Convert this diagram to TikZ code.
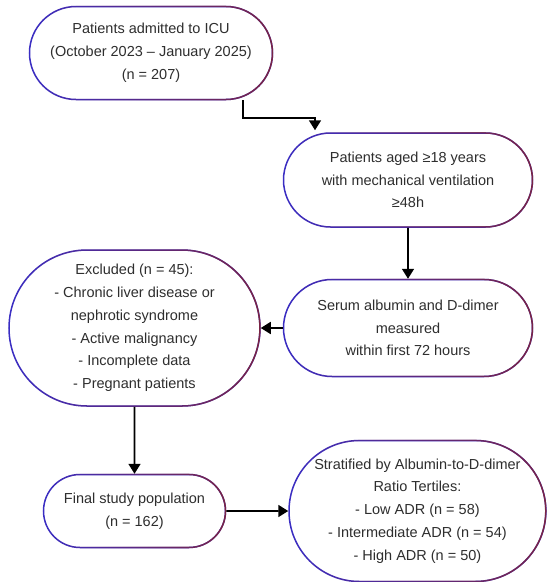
\documentclass[tikz,border=0pt]{standalone}
\usepackage{fontspec}
\setmainfont{Liberation Sans}
\usetikzlibrary{arrows.meta,positioning,shapes.misc,fadings}
\definecolor{edgeblue}{HTML}{3A2EC4}
\definecolor{edgered}{HTML}{7A2444}
\definecolor{txtgray}{HTML}{2E2E2E}
\tikzfading[name=fadeinright, left color=transparent!100, right color=transparent!0]

\begin{document}
\begin{tikzpicture}[
 x=1pt, y=1pt, node distance=50pt, >={Triangle[length=10pt,width=12pt]},
 font=\fontsize{14.5}{22.8}\selectfont,
 stage/.style={rounded rectangle, draw=edgeblue, line width=1.5pt, fill=white, align=center,
  text=txtgray, inner sep=2pt,
  postaction={draw=edgered, line width=1.5pt, path fading=fadeinright}},
 flow/.style={->, line width=1.7pt, black}]
\useasboundingbox (0,0) rectangle (550,-582);
\node[stage, minimum width=247pt, minimum height=93pt] (admit) at (151,-53)
 {Patients admitted to ICU\\ (October 2023 -- January 2025)\\ (n = 207)};
\node[stage, minimum width=253pt, minimum height=94pt] (elig) at (408,-180)
 {Patients aged ≥18 years\\ with mechanical ventilation\\ ≥48h};
\node[stage, minimum width=253pt, minimum height=97pt, below=51pt of elig] (serum)
 {Serum albumin and D-dimer\\ measured\\ within first 72 hours};
\node[stage, minimum width=255pt, minimum height=156pt, left=22pt of serum] (excl)
 {Excluded (n = 45):\\ - Chronic liver disease or\\ nephrotic syndrome\\ - Active malignancy\\
  - Incomplete data\\ - Pregnant patients};
\node[stage, minimum width=186pt, minimum height=73pt, below=67pt of excl] (final)
 {Final study population\\ (n = 162)};
\node[stage, minimum width=253pt, minimum height=141pt, right=62pt of final] (strat)
 {Stratified by Albumin-to-D-dimer\\ Ratio Tertiles:\\ - Low ADR (n = 58)\\
  - Intermediate ADR (n = 54)\\ - High ADR (n = 50)};
\draw[flow] ([xshift=92pt]admit.south) -- ++(0,-18) -| ([xshift=-93pt,yshift=2pt]elig.north);
\draw[flow] (elig) -- (serum);
\draw[flow] (serum) -- (excl);
\draw[flow] (excl) -- (final);
\draw[flow] (final) -- (strat);
\end{tikzpicture}
\end{document}
